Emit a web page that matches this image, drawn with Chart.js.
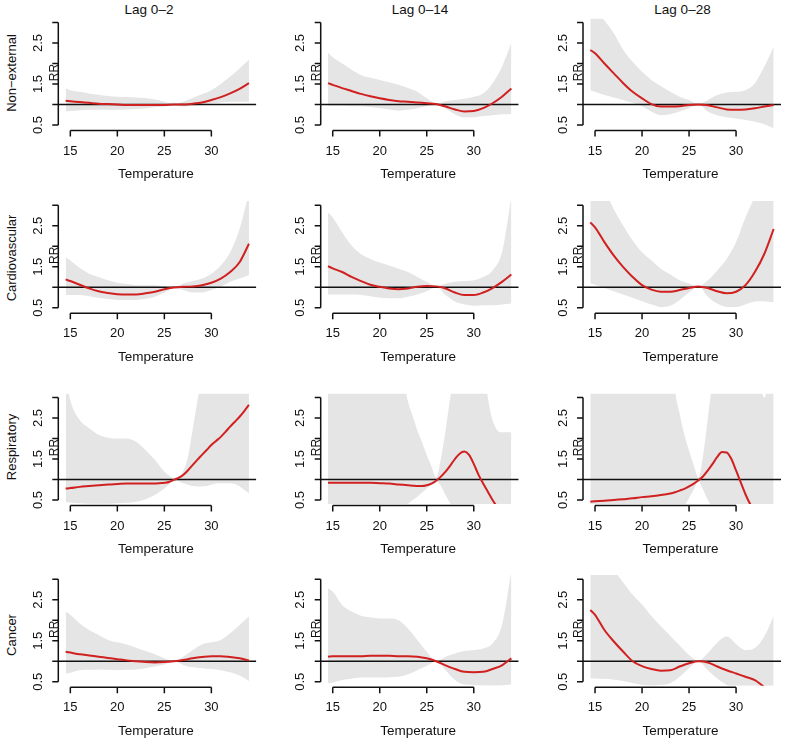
<!DOCTYPE html>
<html lang="en">
<head>
<meta charset="UTF-8">
<title>RR by temperature, cause and lag</title>
<script src="https://cdn.jsdelivr.net/npm/chart.js"></script>
<style>
  html, body { margin: 0; padding: 0; background: #fff; overflow: hidden; }
  #figure { position: relative; width: 785px; height: 739px; overflow: hidden;
            font-family: "Liberation Sans", Arial, Helvetica, sans-serif; color: #111; }
  #figure canvas { position: absolute; }
  .lbl { position: absolute; white-space: nowrap; font-size: 13.5px; line-height: 1;
         transform: translate(-50%, -50%); }
  .rowlbl { font-size: 13px; transform: translate(-50%, -50%) rotate(-90deg); }
</style>
</head>
<body>
<div id="figure"></div>
<script>
// temperature grids the curves were read at
const temps = [14.5, 15, 16, 17, 18, 19, 20, 21, 22, 23, 24, 25, 26, 27, 28, 29, 30, 31, 32, 33, 34];
const tempsFine = [14.5, 15, 16, 17, 18, 19, 20, 21, 22, 23, 23.5, 24, 24.5, 25, 25.5, 26, 26.5,
                   27, 27.5, 28, 28.5, 29, 29.5, 30, 30.5, 31, 31.5, 32, 32.5, 33, 33.5, 34];

const tempTicks = [15, 20, 25, 30];
const rrTicks = [0.5, 1, 1.5, 2, 2.5, 3];
const rrTickLabels = ['0.5', '', '1.5', '', '2.5', ''];

const lagNames = ['Lag 0–2', 'Lag 0–14', 'Lag 0–28'];
const causeNames = ['Non−external', 'Cardiovascular', 'Respiratory', 'Cancer'];

// Non-external
const nonExt2Rr  = [1.09, 1.08, 1.06, 1.04, 1.02, 1.01, 1.00, 0.99, 0.99, 0.99, 0.99, 0.99, 1.00, 1.00, 1.02, 1.05, 1.11, 1.18, 1.27, 1.38, 1.52];
const nonExt2Hi  = [1.39, 1.35, 1.31, 1.27, 1.24, 1.21, 1.19, 1.18, 1.17, 1.16, 1.12, 1.07, 1.01, 1.07, 1.16, 1.25, 1.35, 1.50, 1.68, 1.88, 2.09];
const nonExt2Lo  = [0.83, 0.84, 0.86, 0.87, 0.87, 0.87, 0.87, 0.88, 0.89, 0.91, 0.93, 0.95, 0.99, 0.95, 0.97, 1.00, 1.03, 1.05, 1.07, 1.07, 1.07];
const nonExt14Rr = [1.52, 1.48, 1.40, 1.33, 1.26, 1.20, 1.15, 1.11, 1.08, 1.07, 1.05, 1.03, 1.01, 0.95, 0.88, 0.83, 0.84, 0.91, 1.03, 1.19, 1.39];
const nonExt14Hi = [2.26, 2.15, 2.00, 1.85, 1.72, 1.65, 1.60, 1.54, 1.48, 1.40, 1.31, 1.15, 1.02, 1.08, 1.11, 1.14, 1.19, 1.27, 1.52, 1.92, 2.50];
const nonExt14Lo = [0.97, 0.97, 0.97, 0.96, 0.96, 0.94, 0.91, 0.88, 0.85, 0.87, 0.91, 0.96, 1.00, 0.90, 0.76, 0.68, 0.69, 0.72, 0.74, 0.76, 0.77];
const nonExt28Rr = [2.33, 2.25, 2.00, 1.76, 1.52, 1.31, 1.15, 1.01, 0.95, 0.95, 0.96, 0.99, 1.00, 0.98, 0.93, 0.88, 0.87, 0.88, 0.91, 0.95, 0.99];
const nonExt28Hi = [3.50, 3.30, 3.05, 2.74, 2.33, 2.04, 1.80, 1.60, 1.45, 1.31, 1.19, 1.11, 1.01, 1.11, 1.23, 1.29, 1.31, 1.35, 1.52, 1.92, 2.41];
const nonExt28Lo = [1.35, 1.31, 1.23, 1.17, 1.11, 1.04, 0.96, 0.83, 0.74, 0.76, 0.83, 0.91, 1.00, 0.83, 0.74, 0.69, 0.66, 0.62, 0.58, 0.52, 0.42];

// Cardiovascular
const cardio2Rr  = [1.19, 1.15, 1.06, 0.97, 0.90, 0.86, 0.83, 0.82, 0.82, 0.85, 0.89, 0.95, 0.99, 1.01, 1.02, 1.05, 1.11, 1.21, 1.37, 1.61, 2.06];
const cardio2Hi  = [1.73, 1.65, 1.47, 1.33, 1.25, 1.17, 1.11, 1.08, 1.05, 1.05, 1.05, 1.02, 1.00, 1.09, 1.15, 1.21, 1.33, 1.53, 1.85, 2.42, 3.30];
const cardio2Lo  = [0.81, 0.81, 0.81, 0.78, 0.74, 0.71, 0.69, 0.69, 0.69, 0.72, 0.77, 0.87, 0.98, 0.93, 0.87, 0.87, 0.93, 1.01, 1.13, 1.21, 1.29];
const cardio14Rr = [1.51, 1.46, 1.37, 1.25, 1.15, 1.06, 1.01, 0.97, 0.95, 0.97, 1.01, 1.03, 1.02, 0.97, 0.87, 0.81, 0.81, 0.87, 0.98, 1.13, 1.31];
const cardio14Hi = [2.82, 2.70, 2.34, 2.02, 1.81, 1.69, 1.60, 1.53, 1.45, 1.37, 1.25, 1.13, 1.02, 1.09, 1.13, 1.15, 1.17, 1.25, 1.41, 1.85, 3.20];
const cardio14Lo = [0.82, 0.82, 0.82, 0.82, 0.81, 0.78, 0.74, 0.73, 0.73, 0.77, 0.82, 0.90, 1.00, 0.81, 0.65, 0.58, 0.55, 0.56, 0.56, 0.58, 0.60];
const cardio28Rr = [2.58, 2.46, 2.10, 1.77, 1.49, 1.25, 1.05, 0.94, 0.89, 0.89, 0.93, 0.98, 1.02, 0.98, 0.90, 0.85, 0.89, 1.05, 1.37, 1.81, 2.42];
const cardio28Hi = [3.60, 3.50, 3.35, 2.90, 2.50, 2.14, 1.85, 1.65, 1.45, 1.31, 1.17, 1.09, 1.02, 1.17, 1.41, 1.69, 2.10, 2.70, 3.20, 3.60, 3.80];
const cardio28Lo = [1.09, 1.06, 0.98, 0.90, 0.82, 0.74, 0.66, 0.58, 0.52, 0.55, 0.69, 0.87, 1.01, 0.77, 0.60, 0.52, 0.52, 0.58, 0.65, 0.66, 0.63];

// Respiratory (read on the finer grid)
const resp2Rr  = [0.78, 0.79, 0.82, 0.84, 0.86, 0.88, 0.89, 0.90, 0.90, 0.90, 0.90, 0.90, 0.91, 0.92, 0.94, 0.99, 1.04,
                  1.11, 1.22, 1.35, 1.48, 1.60, 1.72, 1.84, 1.94, 2.04, 2.16, 2.29, 2.41, 2.53, 2.67, 2.82];
const resp2Hi  = [3.50, 2.92, 2.45, 2.25, 2.09, 2.02, 2.00, 2.00, 1.92, 1.72, 1.60, 1.48, 1.33, 1.19, 1.10, 1.03, 1.05,
                  1.20, 1.55, 2.20, 2.90, 3.50, 4.00, 4.00, 4.00, 4.00, 4.00, 4.00, 4.00, 4.00, 4.00, 4.00];
const resp2Lo  = [0.46, 0.44, 0.42, 0.41, 0.41, 0.41, 0.42, 0.43, 0.46, 0.52, 0.57, 0.62, 0.70, 0.78, 0.88, 0.97, 0.96,
                  0.91, 0.87, 0.84, 0.83, 0.83, 0.84, 0.87, 0.90, 0.91, 0.91, 0.91, 0.89, 0.83, 0.75, 0.66];
const resp14Rr = [0.92, 0.92, 0.92, 0.92, 0.92, 0.92, 0.91, 0.90, 0.88, 0.86, 0.85, 0.84, 0.84, 0.86, 0.90, 0.97, 1.07,
                  1.19, 1.34, 1.50, 1.63, 1.68, 1.60, 1.38, 1.12, 0.90, 0.70, 0.50, 0.33, 0.20, 0.10, 0.05];
const resp14Hi = [4.00, 4.00, 4.00, 4.00, 4.00, 4.00, 4.00, 4.00, 4.00, 2.90, 2.55, 2.20, 1.90, 1.60, 1.32, 1.05, 1.50,
                  2.20, 3.00, 3.70, 4.00, 4.00, 4.00, 4.00, 4.00, 4.00, 3.00, 2.45, 2.20, 2.15, 2.15, 2.15];
const resp14Lo = [0.10, 0.10, 0.10, 0.10, 0.10, 0.10, 0.10, 0.10, 0.12, 0.40, 0.50, 0.58, 0.68, 0.78, 0.88, 0.95, 0.85,
                  0.62, 0.42, 0.25, 0.10, 0.10, 0.10, 0.10, 0.10, 0.10, 0.10, 0.10, 0.10, 0.10, 0.10, 0.10];
const resp28Rr = [0.46, 0.47, 0.48, 0.50, 0.52, 0.54, 0.57, 0.59, 0.62, 0.66, 0.69, 0.73, 0.77, 0.83, 0.90, 0.98, 1.08,
                  1.22, 1.38, 1.55, 1.67, 1.66, 1.50, 1.22, 0.93, 0.64, 0.40, 0.22, 0.10, 0.05, 0.02, 0.01];
const resp28Hi = [4.00, 4.00, 4.00, 4.00, 4.00, 4.00, 4.00, 4.00, 4.00, 4.00, 3.15, 2.60, 2.10, 1.70, 1.35, 1.05, 1.60,
                  2.50, 3.40, 4.00, 4.00, 4.00, 4.00, 4.00, 4.00, 4.00, 4.00, 4.00, 3.40, 3.00, 3.40, 4.00];
const resp28Lo = [0.10, 0.10, 0.10, 0.10, 0.10, 0.10, 0.10, 0.10, 0.10, 0.10, 0.10, 0.15, 0.35, 0.55, 0.75, 0.95, 0.75,
                  0.50, 0.30, 0.10, 0.10, 0.10, 0.10, 0.10, 0.10, 0.10, 0.10, 0.10, 0.10, 0.10, 0.10, 0.10];

// Cancer
const cancer2Rr  = [1.23, 1.21, 1.17, 1.14, 1.11, 1.08, 1.05, 1.02, 1.00, 0.98, 0.97, 0.98, 1.00, 1.03, 1.07, 1.10, 1.12, 1.12, 1.10, 1.07, 1.02];
const cancer2Hi  = [2.21, 2.13, 1.92, 1.76, 1.64, 1.52, 1.46, 1.41, 1.33, 1.25, 1.17, 1.07, 1.00, 1.11, 1.27, 1.41, 1.46, 1.52, 1.68, 1.88, 2.09];
const cancer2Lo  = [0.70, 0.72, 0.78, 0.79, 0.80, 0.79, 0.78, 0.79, 0.80, 0.83, 0.87, 0.92, 0.99, 0.91, 0.85, 0.83, 0.81, 0.78, 0.73, 0.65, 0.52];
const cancer14Rr = [1.11, 1.12, 1.12, 1.12, 1.12, 1.13, 1.13, 1.13, 1.12, 1.12, 1.11, 1.07, 1.00, 0.90, 0.81, 0.74, 0.73, 0.74, 0.81, 0.90, 1.07];
const cancer14Hi = [2.78, 2.70, 2.37, 2.21, 2.11, 2.07, 2.04, 2.04, 2.00, 1.80, 1.52, 1.23, 1.00, 1.11, 1.19, 1.25, 1.27, 1.31, 1.43, 1.88, 3.20];
const cancer14Lo = [0.46, 0.48, 0.54, 0.57, 0.60, 0.60, 0.60, 0.61, 0.62, 0.68, 0.78, 0.89, 1.00, 0.78, 0.54, 0.43, 0.42, 0.40, 0.40, 0.41, 0.43];
const cancer28Rr = [2.25, 2.13, 1.76, 1.48, 1.23, 1.00, 0.88, 0.81, 0.77, 0.78, 0.87, 0.95, 1.00, 0.97, 0.87, 0.78, 0.70, 0.62, 0.54, 0.37, 0.25];
const cancer28Hi = [3.50, 3.45, 3.35, 3.20, 2.92, 2.62, 2.38, 2.10, 1.85, 1.62, 1.38, 1.15, 1.01, 1.20, 1.45, 1.60, 1.42, 1.27, 1.32, 1.60, 2.10];
const cancer28Lo = [0.58, 0.58, 0.57, 0.55, 0.52, 0.47, 0.42, 0.40, 0.42, 0.46, 0.62, 0.83, 1.00, 0.78, 0.58, 0.42, 0.30, 0.25, 0.20, 0.20, 0.20];

// rows = causes, columns = lags
const panels = [
  [[temps, nonExt2Rr, nonExt2Hi, nonExt2Lo], [temps, nonExt14Rr, nonExt14Hi, nonExt14Lo], [temps, nonExt28Rr, nonExt28Hi, nonExt28Lo]],
  [[temps, cardio2Rr, cardio2Hi, cardio2Lo], [temps, cardio14Rr, cardio14Hi, cardio14Lo], [temps, cardio28Rr, cardio28Hi, cardio28Lo]],
  [[tempsFine, resp2Rr, resp2Hi, resp2Lo], [tempsFine, resp14Rr, resp14Hi, resp14Lo], [tempsFine, resp28Rr, resp28Hi, resp28Lo]],
  [[temps, cancer2Rr, cancer2Hi, cancer2Lo], [temps, cancer14Rr, cancer14Hi, cancer14Lo], [temps, cancer28Rr, cancer28Hi, cancer28Lo]]
];

// layout (page pixels)
const colAxisX = [58.3, 320.7, 583];        // left edge of each column's plot
const rowBaseY = [125, 307.7, 500, 681.7];  // where RR = 0.5 sits in each row
const titleX = [149, 420, 682.5];
const causeY = [73, 258, 447, 635];
const xMin = 13.72, xMax = 34.78, yMin = 0.4, yMax = 3.1;
const plotW = 198, pxPerRR = 41;

const RED = 'rgb(208, 32, 32)';
const BAND = 'rgb(229, 229, 229)';
const INK = '#111';
const FONT = '"Liberation Sans", Arial, Helvetica, sans-serif';

const toPoints = (xs, ys) => xs.map((x, i) => ({ x: x, y: ys[i] }));

// R-style axes: lines only span the ticks, labels parallel to the axis
const rAxes = {
  id: 'rAxes',
  afterDraw(chart) {
    const { ctx, chartArea: a, scales: { x, y } } = chart;
    ctx.save();
    ctx.strokeStyle = INK;
    ctx.fillStyle = INK;
    ctx.lineWidth = 1.5;
    ctx.textAlign = 'center';
    ctx.textBaseline = 'middle';

    // y axis
    const ax = a.left;
    ctx.beginPath();
    ctx.moveTo(ax, y.getPixelForValue(rrTicks[0]));
    ctx.lineTo(ax, y.getPixelForValue(rrTicks[rrTicks.length - 1]));
    rrTicks.forEach(v => {
      const py = y.getPixelForValue(v);
      ctx.moveTo(ax, py);
      ctx.lineTo(ax - 6, py);
    });
    ctx.stroke();
    ctx.font = '13px ' + FONT;
    rrTicks.forEach((v, i) => {
      if (!rrTickLabels[i]) return;
      ctx.save();
      ctx.translate(ax - 20, y.getPixelForValue(v));
      ctx.rotate(-Math.PI / 2);
      ctx.fillText(rrTickLabels[i], 0, 0);
      ctx.restore();
    });
    ctx.save();
    ctx.font = '12px ' + FONT;
    ctx.translate(ax - 4, y.getPixelForValue(1.78));
    ctx.rotate(-Math.PI / 2);
    ctx.fillText('RR', 0, 0);
    ctx.restore();

    // x axis
    const ay = a.bottom + 1.5;
    ctx.beginPath();
    ctx.moveTo(x.getPixelForValue(tempTicks[0]), ay);
    ctx.lineTo(x.getPixelForValue(tempTicks[tempTicks.length - 1]), ay);
    tempTicks.forEach(v => {
      const px = x.getPixelForValue(v);
      ctx.moveTo(px, ay);
      ctx.lineTo(px, ay + 6);
    });
    ctx.stroke();
    ctx.font = '13px ' + FONT;
    tempTicks.forEach(v => ctx.fillText(String(v), x.getPixelForValue(v), a.bottom + 22));
    ctx.font = '13.5px ' + FONT;
    ctx.fillText('Temperature', (a.left + a.right) / 2 - 1.5, a.bottom + 45);
    ctx.restore();
  }
};

const fig = document.getElementById('figure');

lagNames.forEach((name, c) => {
  const d = document.createElement('div');
  d.className = 'lbl';
  d.textContent = name;
  d.style.left = titleX[c] + 'px';
  d.style.top = '9.5px';
  fig.appendChild(d);
});
causeNames.forEach((name, r) => {
  const d = document.createElement('div');
  d.className = 'lbl rowlbl';
  d.textContent = name;
  d.style.left = '11px';
  d.style.top = causeY[r] + 'px';
  fig.appendChild(d);
});

panels.forEach((row, r) => row.forEach((p, c) => {
  const [xs, rr, hi, lo] = p;
  const plotLeft = colAxisX[c];
  const plotTop = rowBaseY[r] - (yMax - 0.5) * pxPerRR;
  const plotH = (yMax - yMin) * pxPerRR;
  const left = Math.floor(plotLeft - 58);
  const top = Math.floor(plotTop - 20);
  const w = 260, h = 196;

  const cv = document.createElement('canvas');
  cv.width = w;
  cv.height = h;
  cv.style.left = left + 'px';
  cv.style.top = top + 'px';
  fig.appendChild(cv);

  new Chart(cv, {
    type: 'line',
    data: {
      datasets: [
        { data: toPoints(xs, rr), borderColor: RED, borderWidth: 2, pointRadius: 0,
          fill: false, cubicInterpolationMode: 'monotone', clip: 0 },
        { data: [{ x: xMin, y: 1 }, { x: xMax, y: 1 }], borderColor: INK, borderWidth: 1.5,
          pointRadius: 0, fill: false, clip: 0 },
        { data: toPoints(xs, hi), borderColor: 'rgba(0,0,0,0)', borderWidth: 0, pointRadius: 0,
          backgroundColor: BAND, fill: '+1', cubicInterpolationMode: 'monotone', clip: 0 },
        { data: toPoints(xs, lo), borderColor: 'rgba(0,0,0,0)', borderWidth: 0, pointRadius: 0,
          fill: false, cubicInterpolationMode: 'monotone', clip: 0 }
      ]
    },
    options: {
      responsive: false,
      animation: false,
      events: [],
      layout: {
        padding: {
          left: plotLeft - left,
          top: plotTop - top,
          right: w - (plotLeft - left) - plotW,
          bottom: h - (plotTop - top) - plotH
        }
      },
      scales: {
        x: { type: 'linear', min: xMin, max: xMax, display: false },
        y: { type: 'linear', min: yMin, max: yMax, display: false }
      },
      plugins: { legend: { display: false }, tooltip: { enabled: false } }
    },
    plugins: [rAxes]
  });
}));
</script>
</body>
</html>
